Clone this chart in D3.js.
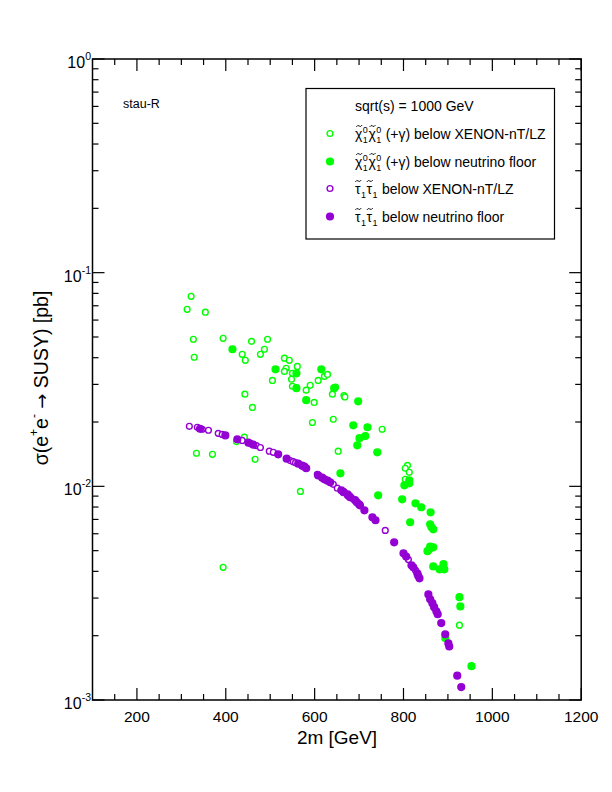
<!DOCTYPE html>
<html>
<head>
<meta charset="utf-8">
<script src="https://cdn.jsdelivr.net/npm/d3@7"></script>
<style>
  body { margin: 0; background: #fff; }
  text { font-family: "Liberation Sans", Arial, Helvetica, sans-serif; white-space: pre; }
</style>
</head>
<body>
<svg id="chart" width="612" height="792"></svg>
<script>
// datos: [2m en GeV, sigma en pb]
let chiOpen = [
  [322, 0.0775], [313, 0.0674], [354, 0.0653], [327, 0.0488], [329, 0.0402], [394, 0.0493],
  [437, 0.0415], [444, 0.0389], [458, 0.0477], [478, 0.0415], [487, 0.0438], [494, 0.0488],
  [505, 0.0313], [532, 0.0398], [543, 0.0389], [536, 0.0357], [532, 0.0345], [561, 0.0364],
  [550, 0.0338], [548, 0.0317], [550, 0.0294], [590, 0.0297], [581, 0.0282], [599, 0.0247],
  [608, 0.0313], [622, 0.0327], [629, 0.0334], [647, 0.0291], [640, 0.0270], [666, 0.0266],
  [668, 0.0262], [595, 0.0199], [642, 0.0206], [443, 0.0270], [460, 0.0234], [653, 0.0146],
  [568, 0.00947], [334, 0.01428], [370, 0.01412], [466, 0.01338], [394, 0.00418], [442, 0.0170],
  [424, 0.0162], [752, 0.0185], [809, 0.01254], [804, 0.01215], [813, 0.01163], [804, 0.01079],
  [926, 0.00224]
];
let chiFilled = [
  [415, 0.0438], [512, 0.0353], [559, 0.0338], [559, 0.0288], [581, 0.0253], [615, 0.0353],
  [644, 0.0288], [658, 0.0115], [698, 0.0250], [687, 0.0193], [719, 0.0189], [701, 0.0168],
  [714, 0.0172], [696, 0.01556], [741, 0.01443], [813, 0.01067], [813, 0.01033], [802, 0.01011],
  [743, 0.00908], [797, 0.00869], [827, 0.00833], [840, 0.00798], [861, 0.00756], [815, 0.00679],
  [860, 0.00664], [863, 0.00643], [867, 0.00629], [860, 0.00522], [867, 0.00518], [858, 0.00507],
  [854, 0.00497], [867, 0.00422], [890, 0.00432], [881, 0.00409], [892, 0.00409], [926, 0.00303],
  [928, 0.00274], [894, 0.00195], [953, 0.00144]
];
let stauOpen = [
  [318, 0.0191], [336, 0.0189], [347, 0.0185], [361, 0.0183], [383, 0.0177], [392, 0.0175],
  [437, 0.0164], [457, 0.01583], [469, 0.0155], [478, 0.0152], [498, 0.0146], [507, 0.01443],
  [545, 0.0132], [552, 0.01304], [557, 0.0129], [606, 0.01138], [642, 0.01022], [651, 0.0098],
  [666, 0.00944], [684, 0.00879], [759, 0.00622], [811, 0.00454], [827, 0.00405]
];
let stauFilled = [
  [342, 0.0186], [399, 0.0173], [426, 0.0166], [451, 0.0160], [462, 0.01566], [518, 0.01412],
  [537, 0.01347], [563, 0.01276], [572, 0.01249], [577, 0.01236], [581, 0.01215], [608, 0.01125],
  [617, 0.01098], [622, 0.01079], [629, 0.01063], [635, 0.01044], [660, 0.00958], [665, 0.00938],
  [674, 0.00918], [678, 0.00898], [675, 0.00908], [680, 0.00889], [691, 0.00861], [695, 0.00842],
  [700, 0.00824], [702, 0.00815], [712, 0.00772], [730, 0.00716], [737, 0.00694], [779, 0.00547],
  [800, 0.00486], [806, 0.00469], [818, 0.00427], [822, 0.00418], [831, 0.00392], [833, 0.00382],
  [836, 0.00371], [856, 0.00312], [860, 0.00296], [865, 0.00284], [869, 0.00272], [874, 0.0026],
  [877, 0.00252], [885, 0.00229], [894, 0.00203], [901, 0.00184], [903, 0.00178], [921, 0.0013],
  [930, 0.00115]
];

let xTicks = [200, 400, 600, 800, 1000, 1200];
let yExps = [0, -1, -2, -3];

let verde = "#00ff00";
let violeta = "#9400d3";

let svg = d3.select("#chart");

let x = d3.scaleLinear().domain([100, 1200]).range([92.5, 581.2]);
let y = d3.scaleLog().domain([1e-3, 1]).range([700, 59]);

// marco
svg.append("rect")
  .attr("x", x(100)).attr("y", y(1))
  .attr("width", x(1200) - x(100)).attr("height", y(1e-3) - y(1))
  .attr("fill", "none").attr("stroke", "#000").attr("stroke-width", 1.5);

// ticks x (abajo y arriba, hacia dentro)
let xMinor = d3.range(150, 1200, 50).filter(d => d % 200 != 0);
let ticksG = svg.append("g").attr("stroke", "#000").attr("stroke-width", 1.2);
xTicks.forEach(d => {
  ticksG.append("line").attr("x1", x(d)).attr("x2", x(d)).attr("y1", y(1e-3)).attr("y2", y(1e-3) - 12);
  ticksG.append("line").attr("x1", x(d)).attr("x2", x(d)).attr("y1", y(1)).attr("y2", y(1) + 12);
});
xMinor.forEach(d => {
  ticksG.append("line").attr("x1", x(d)).attr("x2", x(d)).attr("y1", y(1e-3)).attr("y2", y(1e-3) - 6);
  ticksG.append("line").attr("x1", x(d)).attr("x2", x(d)).attr("y1", y(1)).attr("y2", y(1) + 6);
});

// ticks y log
let yMinor = [];
[-3, -2, -1].forEach(e => {
  for (let k = 2; k <= 9; k++) yMinor.push(k * Math.pow(10, e));
});
yExps.forEach(e => {
  let v = Math.pow(10, e);
  ticksG.append("line").attr("x1", x(100)).attr("x2", x(100) + 12).attr("y1", y(v)).attr("y2", y(v));
  ticksG.append("line").attr("x1", x(1200)).attr("x2", x(1200) - 12).attr("y1", y(v)).attr("y2", y(v));
});
yMinor.forEach(v => {
  ticksG.append("line").attr("x1", x(100)).attr("x2", x(100) + 6).attr("y1", y(v)).attr("y2", y(v));
  ticksG.append("line").attr("x1", x(1200)).attr("x2", x(1200) - 6).attr("y1", y(v)).attr("y2", y(v));
});

// etiquetas x
svg.selectAll(".xlab")
  .data(xTicks)
  .enter()
  .append("text")
  .attr("class", "xlab")
  .attr("x", d => x(d))
  .attr("y", 722)
  .attr("text-anchor", "middle")
  .style("font-size", "15.5px")
  .text(d => d);

// etiquetas y: 10^e
yExps.forEach(e => {
  let t = svg.append("text")
    .attr("x", 91)
    .attr("y", y(Math.pow(10, e)) + 9)
    .attr("text-anchor", "end")
    .style("font-size", "16px");
  t.append("tspan").text("10");
  t.append("tspan").attr("dy", -8).style("font-size", "10.5px").text(e == 0 ? "0" : String(e));
});

// titulos de ejes
svg.append("text")
  .attr("x", 337).attr("y", 744)
  .attr("text-anchor", "middle")
  .style("font-size", "19px")
  .text("2m [GeV]");

let yl = svg.append("text")
  .attr("transform", "translate(48,378) rotate(-90)")
  .attr("text-anchor", "middle")
  .style("font-size", "19.5px");
yl.append("tspan").text("σ(e");
yl.append("tspan").attr("dy", -10).style("font-size", "12px").text("+");
yl.append("tspan").attr("dy", 10).text("e");
yl.append("tspan").attr("dy", -10).style("font-size", "12px").text("-");
yl.append("tspan").attr("dy", 10).text(" ");
yl.append("tspan").style("font-family", "DejaVu Sans").style("font-size", "18px").text("→");
yl.append("tspan").text(" SUSY) [pb]");

svg.append("text")
  .attr("x", 123).attr("y", 108)
  .style("font-size", "12.5px")
  .text("stau-R");

// puntos
function puntos(datos, color, lleno) {
  svg.append("g")
    .selectAll("circle")
    .data(datos)
    .enter()
    .append("circle")
    .attr("cx", d => x(d[0]))
    .attr("cy", d => y(d[1]))
    .attr("r", lleno ? 3.4 : 2.9)
    .attr("fill", lleno ? color : "#fff")
    .attr("stroke", color)
    .attr("stroke-width", 1.4);
}
puntos(chiOpen, verde, false);
puntos(chiFilled, verde, true);
puntos(stauOpen, violeta, false);
puntos(stauFilled, violeta, true);

// leyenda
let leg = svg.append("g");
leg.append("rect")
  .attr("x", 306).attr("y", 88.5).attr("width", 248.5).attr("height", 150.5)
  .attr("fill", "#fff").attr("stroke", "#000").attr("stroke-width", 1.2);

let fs = 14;
leg.append("text").attr("x", 355).attr("y", 111).style("font-size", fs + "px").text("sqrt(s) = 1000 GeV");

let filas = [
  { y: 133.5, color: verde, lleno: false, tipo: "chi", resto: " (+γ) below XENON-nT/LZ" },
  { y: 161.5, color: verde, lleno: true, tipo: "chi", resto: " (+γ) below neutrino floor" },
  { y: 188.5, color: violeta, lleno: false, tipo: "stau", resto: " below XENON-nT/LZ" },
  { y: 216.5, color: violeta, lleno: true, tipo: "stau", resto: " below neutrino floor" }
];

leg.selectAll("circle")
  .data(filas)
  .enter()
  .append("circle")
  .attr("cx", 330)
  .attr("cy", d => d.y)
  .attr("r", d => d.lleno ? 3.4 : 2.9)
  .attr("fill", d => d.lleno ? d.color : "#fff")
  .attr("stroke", d => d.color)
  .attr("stroke-width", 1.4);

// mide el ancho de un texto
function ancho(txt, size) {
  let t = svg.append("text").style("font-size", size + "px").text(txt);
  let w = t.node().getComputedTextLength();
  t.remove();
  return w;
}

filas.forEach(f => {
  let cx = 355;
  let base = f.y + 5;
  let letra = f.tipo == "chi" ? "χ" : "τ";
  let wl = ancho(letra, fs);
  let t = leg.append("text").attr("y", base).style("font-size", fs + "px");
  for (let i = 0; i < 2; i++) {
    t.append("tspan").attr("x", cx).attr("y", base).text(letra);
    // tilde encima de la letra como trazo
    let mx = cx + wl / 2 + 0.5, my = base - 12.5;
    leg.append("path")
      .attr("d", `M${mx - 3},${my + 1} Q${mx - 1.5},${my - 1.5} ${mx},${my} T${mx + 3},${my - 1}`)
      .attr("fill", "none").attr("stroke", "#000").attr("stroke-width", 0.9);
    cx += wl + 0.5;
    let ws = 0;
    if (f.tipo == "chi") {
      t.append("tspan").attr("x", cx).attr("y", base - 5.5).style("font-size", "9px").text("0");
      ws = ancho("0", 9);
    }
    t.append("tspan").attr("x", cx).attr("y", base + 4).style("font-size", "9px").text("1");
    cx += Math.max(ws, ancho("1", 9)) + 0.5;
  }
  t.append("tspan").attr("x", cx).attr("y", base).text(f.resto);
});
</script>
</body>
</html>
